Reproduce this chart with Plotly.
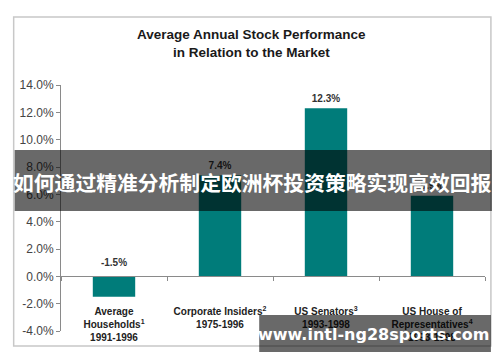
import plotly.graph_objects as go

categories = ["Average<br>Households<sup>1</sup><br>1991-1996",
              "Corporate Insiders<sup>2</sup><br>1975-1996",
              "US Senators<sup>3</sup><br>1993-1998",
              "US House of<br>Representatives<sup>4</sup><br>1993-1998"]
keys = ["hh", "ci", "sen", "house"]
values = [-1.5, 7.4, 12.3, 5.9]
value_labels = ["-1.5%", "7.4%", "12.3%", "5.9%"]
y_ticks = [-4, -2, 0, 2, 4, 6, 8, 10, 12, 14]
title_lines = ["Average Annual Stock Performance", "in Relation to the Market"]
banner_text = "如何通过精准分析制定欧洲杯投资策略实现高效回报"
watermark_text = "www.intl-ng28sports.com"

TEAL = "#007C7A"
FONT = "Liberation Sans, Arial, sans-serif"
OFF = 8  # page body margin

fig = go.Figure()
fig.add_trace(go.Bar(x=keys, y=values, width=0.4, marker=dict(color=TEAL, line=dict(width=0)),
                     hoverinfo="skip"))
label_y = [v + 0.3 if v > 0 else 0.55 for v in values]
fig.add_trace(go.Scatter(x=keys, y=label_y, mode="text", text=[f"<b>{t}</b>" for t in value_labels],
                         textposition="top center", cliponaxis=False,
                         textfont=dict(family=FONT, size=10, color="#333333"),
                         hoverinfo="skip"))
fig.add_trace(go.Scatter(x=keys, y=[-2.3] * len(keys), mode="text", text=[f"<b>{c}</b>" for c in categories],
                         textposition="bottom center", cliponaxis=False,
                         textfont=dict(family=FONT, size=10, color="#222222"),
                         hoverinfo="skip"))

fig.update_layout(
    width=500, height=362,
    margin=dict(l=55 - OFF, r=23, t=85 - OFF, b=39),
    paper_bgcolor="white", plot_bgcolor="white",
    showlegend=False,
    font=dict(family=FONT),
    xaxis=dict(type="category", range=[-0.5, 3.5], anchor="free", position=4 / 18,
               showline=True, linecolor="#8a8a8a", linewidth=1,
               ticks="outside", tickson="boundaries", ticklen=4, tickcolor="#8a8a8a",
               showticklabels=False, showgrid=False, zeroline=False, fixedrange=True),
    yaxis=dict(range=[-4, 14], tickvals=y_ticks,
               ticktext=[f"{t:.1f}%" for t in y_ticks],
               showline=True, linecolor="#8a8a8a", linewidth=1,
               ticks="outside", ticklen=4, tickcolor="#8a8a8a",
               tickfont=dict(family=FONT, size=12, color="#444444"),
               showgrid=False, zeroline=False, fixedrange=True),
)

def px_x(px):
    return (px - 55) / 430

def px_y(py):
    return (331 - py) / 246

shapes = [
    dict(type="rect", xref="paper", yref="paper", x0=px_x(7), x1=px_x(491), y0=px_y(346), y1=px_y(17),
         line=dict(color="#c8c8c8", width=1.5), fillcolor="rgba(0,0,0,0)", layer="below"),
    dict(type="rect", xref="paper", yref="paper", x0=px_x(8), x1=px_x(492), y0=px_y(211), y1=px_y(150),
         line=dict(width=0), fillcolor="rgba(0,0,0,0.59)", layer="above"),
    dict(type="rect", xref="paper", yref="paper", x0=px_x(256), x1=px_x(491), y0=px_y(352), y1=px_y(315),
         line=dict(width=0), fillcolor="rgba(0,0,0,0.59)", layer="above"),
]
fig.update_layout(shapes=shapes)

ann = []
for line, py in zip(title_lines, [35, 53]):
    ann.append(dict(text=f"<b>{line}</b>", xref="paper", yref="paper", x=px_x(248.5), y=px_y(py),
                    showarrow=False, xanchor="center", yanchor="middle",
                    font=dict(family=FONT, size=13.5, color="#1a1a1a")))
ann.append(dict(text=f"<b>{banner_text}</b>", xref="paper", yref="paper", x=px_x(249), y=px_y(182),
                showarrow=False, xanchor="center", yanchor="middle",
                font=dict(family="Noto Sans CJK SC", size=20.8, color="white")))
ann.append(dict(text=f"<b>{watermark_text}</b>", xref="paper", yref="paper", x=px_x(372), y=px_y(334),
                showarrow=False, xanchor="center", yanchor="middle",
                font=dict(family="DejaVu Sans, Noto Sans", size=16, color="white")))
fig.update_layout(annotations=ann)

fig.write_html("out.html")
